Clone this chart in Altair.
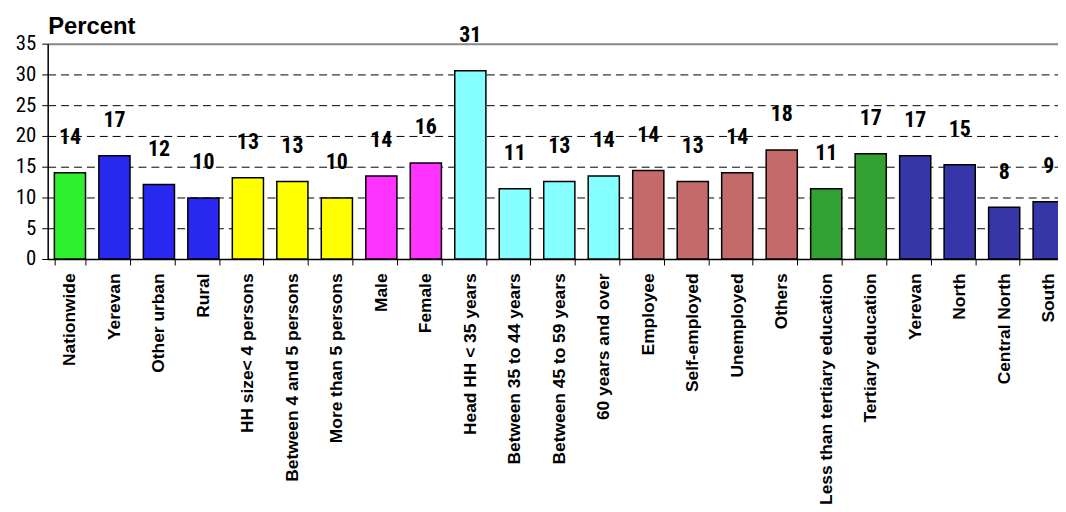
import altair as alt
import pandas as pd

categories = [
    "Nationwide", "Yerevan", "Other urban", "Rural",
    "HH size< 4 persons", "Between 4 and 5 persons", "More than 5 persons",
    "Male", "Female",
    "Head HH < 35 years", "Between 35 to 44 years", "Between 45 to 59 years", "60 years and over",
    "Employee", "Self-employed", "Unemployed", "Others",
    "Less than tertiary education", "Tertiary education",
    "Yerevan\u200b", "North", "Central North", "South",
]
values = [14.0, 16.8, 12.1, 9.9, 13.2, 12.6, 9.9, 13.5, 15.6, 30.6, 11.4, 12.6,
          13.5, 14.4, 12.6, 14.0, 17.7, 11.4, 17.1, 16.8, 15.3, 8.4, 9.3]
labels = ["14", "17", "12", "10", "13", "13", "10", "14", "16", "31", "11", "13",
          "14", "14", "13", "14", "18", "11", "17", "17", "15", "8", "9"]
groups = ["national", "area", "area", "area", "hhsize", "hhsize", "hhsize",
          "gender", "gender", "age", "age", "age", "age",
          "employment", "employment", "employment", "employment",
          "education", "education", "region", "region", "region", "region"]
group_names = ["national", "area", "hhsize", "gender", "age", "employment", "education", "region"]
group_colors = ["#2EF02E", "#2828F0", "#FFFF00", "#FF33FF", "#85FFFF", "#C46A6A", "#33A033", "#3636A8"]
y_ticks = [0, 5, 10, 15, 20, 25, 30, 35]

df = pd.DataFrame({"category": categories, "value": values, "label": labels, "group": groups})

NARROW = "Liberation Sans Narrow, Roboto Condensed, DejaVu Sans Condensed, Liberation Sans, sans-serif"
SANS = "Liberation Sans, Arial, sans-serif"

x_enc = alt.X(
    "category:N",
    sort=categories,
    scale=alt.Scale(range=[0, 1031], paddingInner=0.3, paddingOuter=0.15),
    axis=alt.Axis(
        title=None, labelAngle=-90, labelFont=SANS, labelFontSize=17.5, labelFontWeight="bold",
        labelColor="black", labelPadding=8, labelLimit=400, labelOverlap=False,
        tickBand="extent", tickSize=6, tickColor="black", domainColor="black", domainWidth=1.5,
        grid=False,
    ),
)
y_enc = alt.Y(
    "value:Q",
    scale=alt.Scale(domain=[0, 35], nice=False, zero=True),
    axis=alt.Axis(
        title="Percent", titleAngle=0, titleAlign="left", titleBaseline="bottom",
        titleX=0, titleY=-5, titleFont=SANS, titleFontSize=24, titleFontWeight="bold",
        titleColor="black",
        values=y_ticks, labelFont=NARROW, labelFontSize=21, labelOverlap=False,
        labelColor="black", labelPadding=6, tickSize=6, tickColor="black",
        domainColor="black", domainWidth=1.5,
        grid=True,
        gridColor=alt.condition("datum.value == 35", alt.value("#888888"), alt.value("black")),
        gridDash=alt.condition("datum.value == 35", alt.value([]), alt.value([8, 5])),
        gridWidth=alt.condition("datum.value == 35", alt.value(2), alt.value(1)),
    ),
)

base = alt.Chart(df).encode(x=x_enc, y=y_enc)

bars = base.mark_bar(stroke="black", strokeWidth=1.5).encode(
    color=alt.Color("group:N", scale=alt.Scale(domain=group_names, range=group_colors), legend=None),
)

texts = base.mark_text(
    font=NARROW, fontSize=22, fontWeight="bold", color="black", baseline="middle", dy=-36,
).encode(text="label:N")

chart = alt.layer(bars, texts).properties(
    width=1018,
    height=217,
    autosize=alt.AutoSizeParams(type="none"),
    padding={"left": 40, "top": 34, "right": 0, "bottom": 253},
).configure_view(stroke="transparent").configure(background="white")

chart.save("out.html", embed_options={"renderer": "svg", "actions": False})
